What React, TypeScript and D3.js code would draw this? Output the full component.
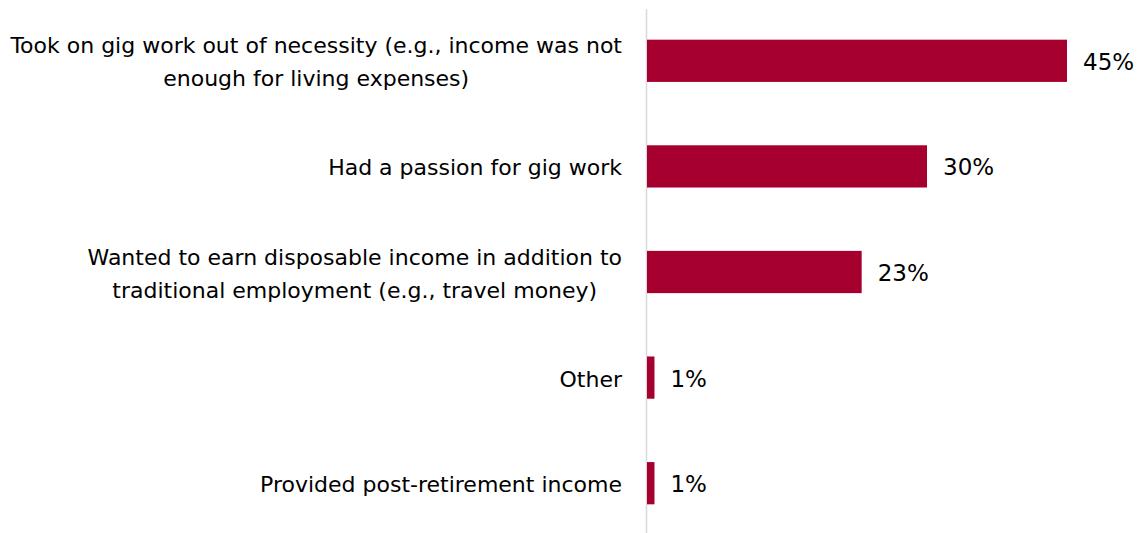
import * as d3 from 'd3';
import React from 'react';

// chart data
const categories = [
  'necessity',
  'passion',
  'disposable',
  'other',
  'retirement',
];

const categoryLines: string[][] = [
  ['Took on gig work out of necessity (e.g., income was not', 'enough for living expenses)'],
  ['Had a passion for gig work'],
  ['Wanted to earn disposable income in addition to', 'traditional employment (e.g., travel money)'],
  ['Other'],
  ['Provided post-retirement income'],
];

const shares = [0.45, 0.30, 0.23, 0.008, 0.008];

const WIDTH = 1143;
const HEIGHT = 533;
const BAR_COLOR = '#A6002E';
const FONT = '"DejaVu Sans", sans-serif';
const LABEL_SIZE = 22;
const VALUE_SIZE = 23;
const LINE_HEIGHT = 33;
const LABEL_RIGHT = 622;

// measure text so multi-line labels can be centred within a right-aligned block
let ctx: CanvasRenderingContext2D | null = null;
const measure = (s: string) => {
  if (!ctx) {
    ctx = document.createElement('canvas').getContext('2d');
    if (ctx) ctx.font = `${LABEL_SIZE}px ${FONT}`;
  }
  return ctx ? ctx.measureText(s).width : s.length * LABEL_SIZE * 0.55;
};

const App: React.FC = () => {
  const x = d3.scaleLinear().domain([0, 0.45]).range([647, 1067]);

  const y = d3.scaleBand<string>()
    .domain(categories)
    .range([8, 536])
    .paddingInner(0.6)
    .paddingOuter(0.3);

  const pct = d3.format('.0%');

  return (
    <svg
      width={WIDTH}
      height={HEIGHT}
      style={{ position: 'absolute', left: 0, top: 0, background: '#fff' }}
      fontFamily={FONT}
    >
      {/* axis line */}
      <line x1={x(0) - 0.5} x2={x(0) - 0.5} y1={9} y2={HEIGHT} stroke="#d9d9d9" strokeWidth={1.5} />

      {categories.map((c, i) => {
        const top = y(c) ?? 0;
        const mid = top + y.bandwidth() / 2;
        const lines = categoryLines[i];
        const firstBaseline = mid + 9 - ((lines.length - 1) * LINE_HEIGHT) / 2;
        const blockW = d3.max(lines, measure) ?? 0;
        const cx = LABEL_RIGHT - blockW / 2;
        return (
          <g key={c}>
            <rect
              x={x(0)}
              y={top}
              width={x(shares[i]) - x(0)}
              height={y.bandwidth()}
              fill={BAR_COLOR}
            />
            <text x={x(shares[i]) + 16} y={mid + 9} fill="#000" fontSize={VALUE_SIZE}>
              {pct(shares[i])}
            </text>
            <text textAnchor="middle" fill="#000" fontSize={LABEL_SIZE}>
              {lines.map((ln, j) => (
                <tspan key={j} x={cx} y={firstBaseline + j * LINE_HEIGHT}>
                  {ln}
                </tspan>
              ))}
            </text>
          </g>
        );
      })}
    </svg>
  );
};

export default App;
